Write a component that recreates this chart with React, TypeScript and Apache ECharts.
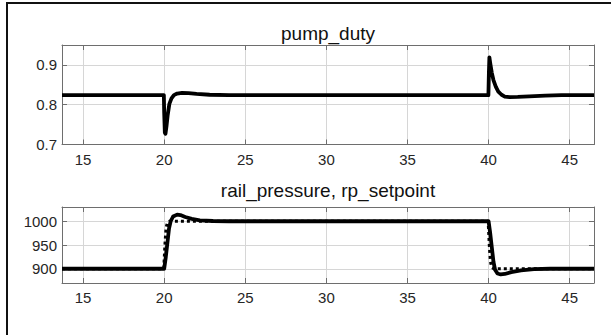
import React, { useEffect, useRef } from "react";
import * as echarts from "echarts";

// ---- data ----
const xRange = [13.7, 46.5];

const dutyTime = [
  13.7, 19.98, 20.0, 20.04, 20.08, 20.14, 20.22, 20.32, 20.45, 20.6, 20.8, 21.1, 21.5, 22.0, 22.8, 24.0,
  39.99, 40.02, 40.05, 40.1, 40.2, 40.3, 40.45, 40.6, 40.8, 41.0, 41.3, 41.8, 42.5, 43.5, 44.5, 46.5,
];
const dutyValues = [
  0.824, 0.824, 0.78, 0.73, 0.727, 0.745, 0.775, 0.802, 0.816, 0.824, 0.828, 0.8295, 0.829, 0.827, 0.825, 0.824,
  0.824, 0.88, 0.919, 0.905, 0.88, 0.862, 0.845, 0.833, 0.825, 0.8205, 0.819, 0.8195, 0.821, 0.823, 0.824, 0.824,
];

const pressureTime = [
  13.7, 20.0, 20.1, 20.2, 20.3, 20.4, 20.55, 20.8, 21.0, 21.3, 21.7, 22.2, 23.0, 24.0,
  40.0, 40.1, 40.2, 40.3, 40.4, 40.55, 40.75, 41.0, 41.4, 42.0, 42.8, 43.8, 46.5,
];
const pressureValues = [
  900, 900, 925, 955, 985, 1000, 1010, 1014, 1013, 1009, 1005, 1002, 1000.5, 1000,
  1000, 975, 945, 915, 898, 890, 888, 889, 893, 896.5, 899, 900, 900,
];

const setpointTime = [13.7, 19.98, 20.05, 20.12, 20.2, 20.35, 39.98, 40.05, 40.12, 40.2, 40.35, 46.5];
const setpointValues = [900, 900, 950, 985, 997, 1000, 1000, 950, 915, 903, 900, 900];

const titles = ["pump_duty", "rail_pressure, rp_setpoint"];
const dutyRange = [0.7, 0.95];
const pressureRange = [870, 1030];

const zip = (t: number[], v: number[]) => t.map((x, i) => [x, v[i]]);

const FONT = "'Liberation Sans', Arial, Helvetica, sans-serif";
const BOX = "#6e6e6e";
const GRID = "#d6d6d6";
const LABEL = "#262626";

function xAxisFor(gridIndex: number, bottom: boolean) {
  return {
    type: "value",
    gridIndex,
    position: bottom ? "bottom" : "top",
    min: xRange[0],
    max: xRange[1],
    minInterval: 5,
    maxInterval: 5,
    axisLine: { show: true, onZero: false, lineStyle: { color: BOX, width: 1 } },
    axisTick: { show: true, inside: true, length: 5, lineStyle: { color: BOX, width: 1 } },
    axisLabel: {
      show: bottom,
      color: LABEL,
      fontSize: 15,
      fontFamily: FONT,
      margin: 7,
      showMinLabel: false,
      showMaxLabel: false,
      formatter: (v: number) => (Math.abs(v % 5) < 1e-9 ? String(v) : ""),
    },
    splitLine: { show: bottom, lineStyle: { color: GRID, width: 1 } },
  };
}

function yAxisFor(gridIndex: number, left: boolean, range: number[], step: number, digits: number) {
  return {
    type: "value",
    gridIndex,
    position: left ? "left" : "right",
    min: range[0],
    max: range[1],
    minInterval: step,
    maxInterval: step,
    axisLine: { show: true, onZero: false, lineStyle: { color: BOX, width: 1 } },
    axisTick: { show: true, inside: true, length: 5, lineStyle: { color: BOX, width: 1 } },
    axisLabel: {
      show: left,
      color: LABEL,
      fontSize: 15,
      fontFamily: FONT,
      margin: 5,
      showMinLabel: digits > 0,
      showMaxLabel: false,
      formatter: (v: number) => v.toFixed(digits),
    },
    splitLine: { show: left, lineStyle: { color: GRID, width: 1 } },
  };
}

export default function App() {
  const ref = useRef<HTMLDivElement>(null);
  useEffect(() => {
    if (!ref.current) return;
    const chart = echarts.init(ref.current, undefined, { renderer: "svg" });
    const plotLeft = 62;
    const plotRight = 594;
    const center = (plotLeft + plotRight) / 2;
    chart.setOption({
      animation: false,
      backgroundColor: "#ffffff",
      grid: [
        { left: plotLeft, top: 45, width: plotRight - plotLeft, height: 99.5, containLabel: false },
        { left: plotLeft, top: 207, width: plotRight - plotLeft, height: 76, containLabel: false },
      ],
      xAxis: [xAxisFor(0, true), xAxisFor(0, false), xAxisFor(1, true), xAxisFor(1, false)],
      yAxis: [
        yAxisFor(0, true, dutyRange, 0.1, 1),
        yAxisFor(0, false, dutyRange, 0.1, 1),
        yAxisFor(1, true, pressureRange, 50, 0),
        yAxisFor(1, false, pressureRange, 50, 0),
      ],
      series: [
        {
          type: "line",
          name: "pump_duty",
          xAxisIndex: 0,
          yAxisIndex: 0,
          data: zip(dutyTime, dutyValues),
          showSymbol: false,
          lineStyle: { color: "#000", width: 3.8, join: "round" },
          clip: true,
        },
        {
          type: "line",
          name: "rp_setpoint",
          xAxisIndex: 2,
          yAxisIndex: 2,
          data: zip(setpointTime, setpointValues),
          showSymbol: false,
          lineStyle: { color: "#000", width: 3.2, type: [3, 3] },
          clip: true,
        },
        {
          type: "line",
          name: "rail_pressure",
          xAxisIndex: 2,
          yAxisIndex: 2,
          data: zip(pressureTime, pressureValues),
          showSymbol: false,
          lineStyle: { color: "#000", width: 3.8, join: "round" },
          clip: true,
        },
      ],
      graphic: [
        { type: "line", shape: { x1: 7, y1: 3, x2: 611, y2: 3 }, style: { stroke: "#111", lineWidth: 2 } },
        { type: "line", shape: { x1: 7, y1: 2, x2: 7, y2: 335 }, style: { stroke: "#111", lineWidth: 2 } },
        {
          type: "text",
          x: center,
          y: 24,
          style: { text: titles[0], textAlign: "center", textVerticalAlign: "top", fontSize: 19, fontFamily: FONT, fill: "#111" },
        },
        {
          type: "text",
          x: center,
          y: 181,
          style: { text: titles[1], textAlign: "center", textVerticalAlign: "top", fontSize: 19, fontFamily: FONT, fill: "#111" },
        },
      ],
    });
    return () => chart.dispose();
  }, []);
  return <div ref={ref} style={{ position: "fixed", left: 0, top: 0, width: 611, height: 335, background: "#fff" }} />;
}
